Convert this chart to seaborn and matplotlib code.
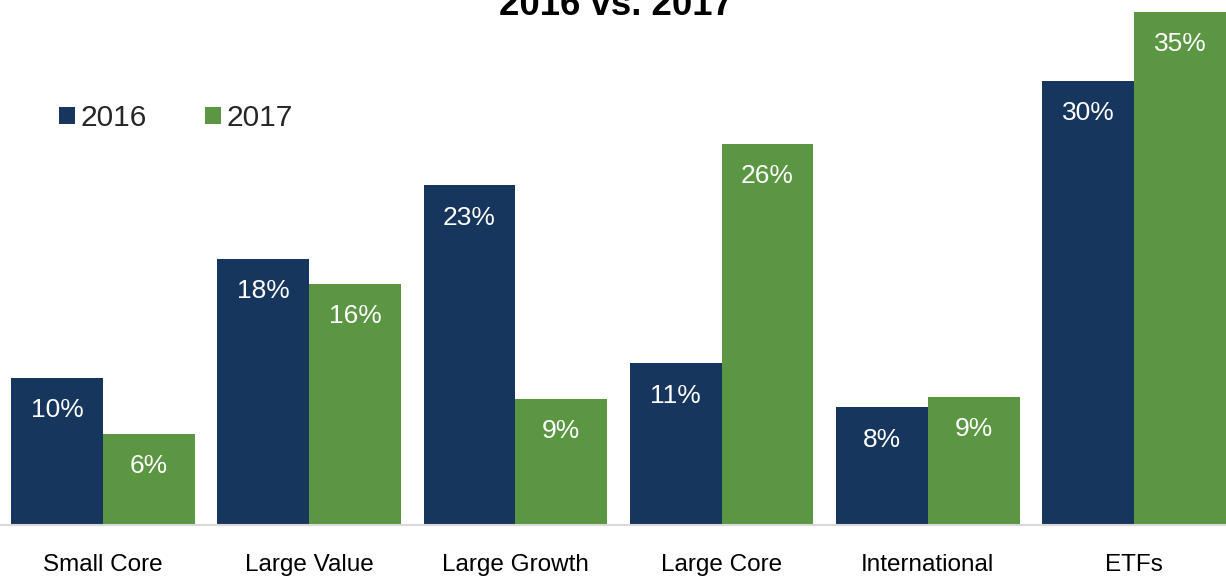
import pandas as pd
import seaborn as sns
import matplotlib.pyplot as plt
from matplotlib.patches import Patch

# data
categories = ['Small Core', 'Large Value', 'Large Growth', 'Large Core', 'International', 'ETFs']
values_2016 = [10.0, 18.1, 23.1, 11.0, 8.0, 30.2]
values_2017 = [6.2, 16.4, 8.6, 25.9, 8.7, 34.9]
years = ['2016', '2017']
colors = ['#17365D', '#5B9642']

df = pd.DataFrame({
    'category': categories * 2,
    'value': values_2016 + values_2017,
    'year': ['2016'] * len(categories) + ['2017'] * len(categories),
})

sns.set_theme(style='white')
plt.rcParams['font.family'] = ['Liberation Sans', 'DejaVu Sans']

fig = plt.figure(figsize=(12.26, 5.76), dpi=100)
ax = fig.add_axes([0, 51 / 576, 1, 1 - 51 / 576])

sns.barplot(data=df, x='category', y='value', hue='year', palette=colors,
            width=0.89, saturation=1, legend=False, ax=ax, errorbar=None,
            linewidth=0, edgecolor='none')

ax.set_xlim(-0.4995, 5.446)
ax.set_ylim(0, 35.7)

# value labels inside the top of each bar
for cont in ax.containers:
    for bar in cont:
        h = bar.get_height()
        ax.annotate(f'{h:.0f}%', (bar.get_x() + bar.get_width() / 2, h),
                    xytext=(0, -23.3), textcoords='offset points',
                    ha='center', va='center', color='white', fontsize=19)

for s in ['top', 'right', 'left']:
    ax.spines[s].set_visible(False)
ax.spines['bottom'].set_color('#d9d9d9')
ax.spines['bottom'].set_linewidth(1.5)
ax.set_yticks([])
ax.set_xlabel('')
ax.set_ylabel('')
ax.tick_params(axis='x', length=0, pad=21, labelsize=17.5, colors='black')

handles = [Patch(facecolor=c, edgecolor='none') for c in colors]
fig.legend(handles, years, loc='center left', bbox_to_anchor=(59 / 1226, 1 - 118 / 576),
           ncol=2, frameon=False, fontsize=21.5, handlelength=0.52, handleheight=0.52,
           handletextpad=0.2, columnspacing=1.95, borderpad=0, borderaxespad=0)

fig.text(0.502, 1 - 15 / 576, '2016 vs. 2017', ha='center', va='baseline',
         fontsize=26.4, fontweight='bold', color='black')

fig.savefig('out.png', dpi=100)
